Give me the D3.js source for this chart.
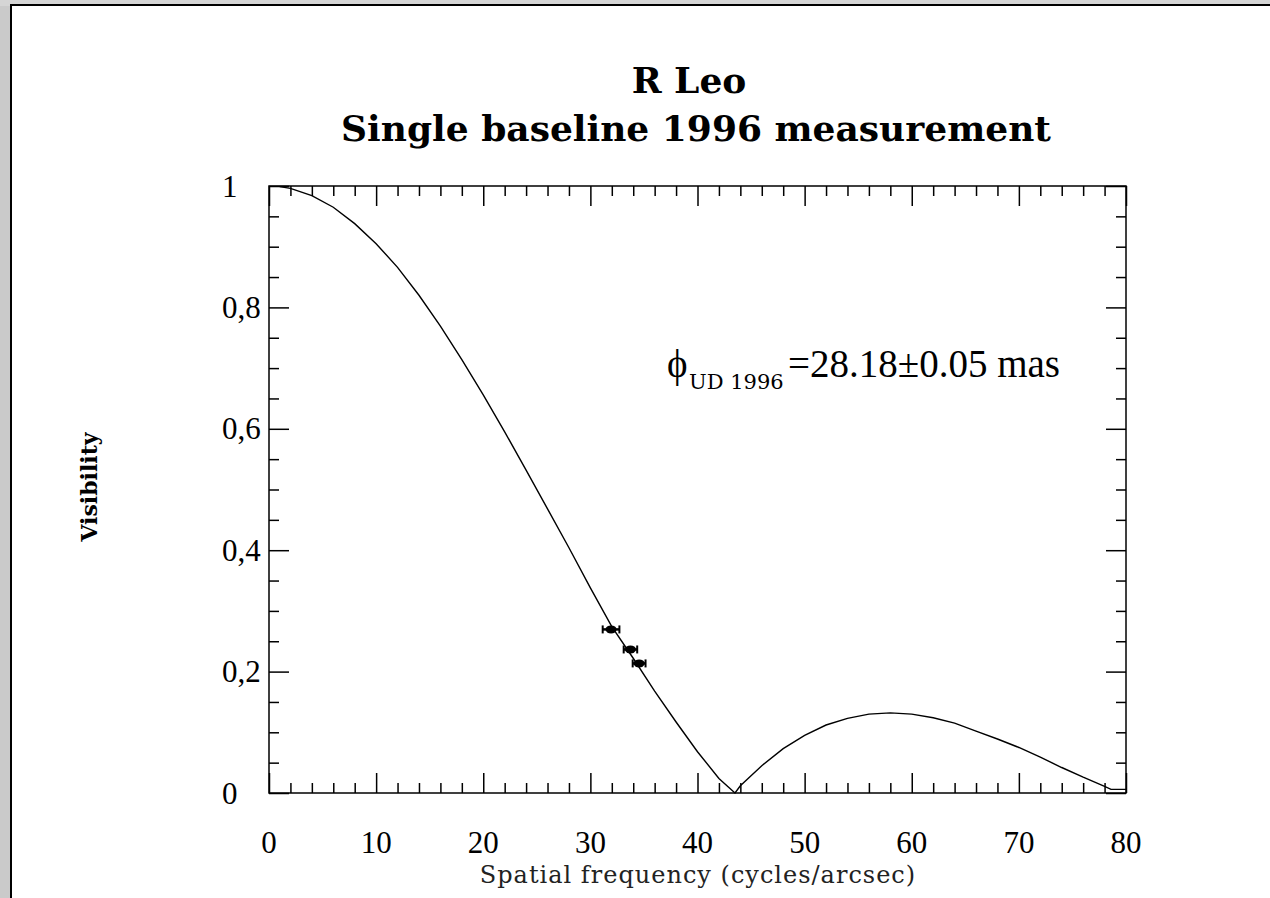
<!DOCTYPE html>
<html>
<head>
<meta charset="utf-8">
<script src="https://cdn.jsdelivr.net/npm/d3@7"></script>
<style>
  body { margin: 0; background: #d5d5d5; }
  svg { display: block; }
</style>
</head>
<body>
<div id="chartTarget"></div>
<script>
// model curve (spatial frequency vs visibility)
let curveFreq = [1, 2, 4, 6, 8, 10, 12, 14, 16, 18, 20, 22, 24, 26, 28, 30, 32, 34, 36, 38, 40, 42, 43.5,
  44, 46, 48, 50, 52, 54, 56, 58, 60, 62, 64, 66, 68, 70, 72, 74, 76, 78, 78.6, 80];
let curveVis = [0.999, 0.996, 0.984, 0.965, 0.938, 0.905, 0.866, 0.82, 0.769, 0.714, 0.656, 0.595, 0.532,
  0.468, 0.404, 0.338, 0.274, 0.222, 0.168, 0.117, 0.068, 0.024, 0.0,
  0.012, 0.045, 0.073, 0.095, 0.112, 0.123, 0.13, 0.132, 0.13, 0.124, 0.115, 0.102, 0.089, 0.075,
  0.059, 0.042, 0.026, 0.011, 0.006, 0.006];

// measured points
let pointFreq = [31.93, 33.74, 34.55];
let pointVis = [0.2695, 0.2365, 0.2135];
let pointFreqErr = [0.78, 0.63, 0.6];
let pointVisErr = [0.004, 0.004, 0.004];

let xTicks = [0, 10, 20, 30, 40, 50, 60, 70, 80];
let xTickLabels = ['0', '10', '20', '30', '40', '50', '60', '70', '80'];
let yTicks = [0, 0.2, 0.4, 0.6, 0.8, 1];
let yTickLabels = ['0', '0,2', '0,4', '0,6', '0,8', '1'];

let titleLines = ['R Leo', 'Single baseline 1996 measurement'];

function drawChart() {
  let W = 1270, H = 898;
  let plot = {left: 269, right: 1126, top: 186, bottom: 793};
  let chartElement = document.querySelector('#chartTarget');

  let svg = d3.select(chartElement).append('svg')
    .attr('width', W)
    .attr('height', H);

  // window background + white page
  svg.append('rect').attr('width', W).attr('height', H).attr('fill', '#d5d5d5');
  svg.append('rect').attr('x', 0).attr('y', 6).attr('width', 11).attr('height', H).attr('fill', '#cacaca');
  svg.append('rect')
    .attr('x', 11).attr('y', 5)
    .attr('width', W + 10).attr('height', H + 10)
    .attr('fill', '#fff')
    .attr('stroke', '#000')
    .attr('stroke-width', 2);

  let x = d3.scaleLinear().domain([0, 80]).range([plot.left, plot.right]);
  let y = d3.scaleLinear().domain([0, 1]).range([plot.bottom, plot.top]);

  let minorX = d3.range(0, 81, 2).filter(d => d % 10 !== 0);
  let minorY = d3.range(0, 21).map(d => d * 0.05).filter(d => Math.round(d * 100) % 20 !== 0);

  function tickAxis(axisFn, scale, ticks, size, pos, horizontal) {
    let g = svg.append('g')
      .attr('transform', horizontal ? `translate(0,${pos})` : `translate(${pos},0)`)
      .call(axisFn(scale).tickValues(ticks).tickSize(size).tickFormat(''));
    g.selectAll('.domain').remove();
    g.selectAll('line').attr('stroke', '#000').attr('stroke-width', 1.5);
  }

  // inward ticks on all four sides
  tickAxis(d3.axisBottom, x, xTicks, -20, plot.bottom, true);
  tickAxis(d3.axisBottom, x, minorX, -10, plot.bottom, true);
  tickAxis(d3.axisTop, x, xTicks, -20, plot.top, true);
  tickAxis(d3.axisTop, x, minorX, -10, plot.top, true);
  tickAxis(d3.axisLeft, y, yTicks, -20, plot.left, false);
  tickAxis(d3.axisLeft, y, minorY, -10, plot.left, false);
  tickAxis(d3.axisRight, y, yTicks, -20, plot.right, false);
  tickAxis(d3.axisRight, y, minorY, -10, plot.right, false);

  svg.append('rect')
    .attr('x', plot.left).attr('y', plot.top)
    .attr('width', plot.right - plot.left).attr('height', plot.bottom - plot.top)
    .attr('fill', 'none')
    .attr('stroke', '#000')
    .attr('stroke-width', 1.5);

  // tick labels
  svg.append('g').selectAll('text')
    .data(xTicks)
    .enter().append('text')
      .attr('x', d => x(d))
      .attr('y', 853)
      .attr('text-anchor', 'middle')
      .style('font', '31px "Liberation Serif", serif')
      .text((d, i) => xTickLabels[i]);

  svg.append('g').selectAll('text')
    .data(yTicks)
    .enter().append('text')
      .attr('x', 222)
      .attr('y', d => y(d) + 10.5)
      .attr('text-anchor', 'start')
      .style('font', '31px "Liberation Serif", serif')
      .text((d, i) => yTickLabels[i]);

  // model curve
  let line = d3.line()
    .x((d, i) => x(curveFreq[i]))
    .y(d => y(d));

  svg.append('path')
    .datum(curveVis)
    .attr('d', line)
    .attr('fill', 'none')
    .attr('stroke', '#000')
    .attr('stroke-width', 1.4);

  // data points with error bars
  let pts = svg.append('g').selectAll('g')
    .data(pointFreq)
    .enter().append('g');

  pts.append('line')
    .attr('x1', (d, i) => x(d - pointFreqErr[i]))
    .attr('x2', (d, i) => x(d + pointFreqErr[i]))
    .attr('y1', (d, i) => y(pointVis[i]))
    .attr('y2', (d, i) => y(pointVis[i]))
    .attr('stroke', '#000').attr('stroke-width', 2.5);
  pts.append('line')
    .attr('x1', (d, i) => x(d - pointFreqErr[i]))
    .attr('x2', (d, i) => x(d - pointFreqErr[i]))
    .attr('y1', (d, i) => y(pointVis[i]) - 4)
    .attr('y2', (d, i) => y(pointVis[i]) + 4)
    .attr('stroke', '#000').attr('stroke-width', 2);
  pts.append('line')
    .attr('x1', (d, i) => x(d + pointFreqErr[i]))
    .attr('x2', (d, i) => x(d + pointFreqErr[i]))
    .attr('y1', (d, i) => y(pointVis[i]) - 4)
    .attr('y2', (d, i) => y(pointVis[i]) + 4)
    .attr('stroke', '#000').attr('stroke-width', 2);
  pts.append('line')
    .attr('x1', d => x(d))
    .attr('x2', d => x(d))
    .attr('y1', (d, i) => y(pointVis[i] + pointVisErr[i]))
    .attr('y2', (d, i) => y(pointVis[i] - pointVisErr[i]))
    .attr('stroke', '#000').attr('stroke-width', 2.5);
  pts.append('ellipse')
    .attr('cx', d => x(d))
    .attr('cy', (d, i) => y(pointVis[i]))
    .attr('rx', 5.5)
    .attr('ry', 4)
    .attr('fill', '#000');

  // title
  svg.append('text')
    .attr('x', 689).attr('y', 93)
    .attr('text-anchor', 'middle')
    .style('font', 'bold 36px "DejaVu Serif", serif')
    .text(titleLines[0]);
  svg.append('text')
    .attr('x', 696).attr('y', 141)
    .attr('text-anchor', 'middle')
    .style('font', 'bold 36px "DejaVu Serif", serif')
    .text(titleLines[1]);

  // axis titles
  svg.append('text')
    .attr('transform', 'translate(97,487) rotate(-90)')
    .attr('text-anchor', 'middle')
    .style('font', 'bold 22px "DejaVu Serif", serif')
    .text('Visibility');

  svg.append('text')
    .attr('x', 698).attr('y', 883)
    .attr('text-anchor', 'middle')
    .style('font', '24px "DejaVu Serif", serif')
    .style('letter-spacing', '1px')
    .style('fill', '#222')
    .text('Spatial frequency (cycles/arcsec)');

  // fitted diameter annotation
  let ann = svg.append('text').attr('y', 377);
  ann.append('tspan')
    .attr('x', 667)
    .style('font', '39px "Liberation Serif", serif')
    .text('\u03D5');
  ann.append('tspan')
    .attr('x', 689).attr('y', 389)
    .style('font', '21px "DejaVu Serif", serif')
    .text('UD 1996');
  ann.append('tspan')
    .attr('x', 788).attr('y', 377)
    .style('font', '39px "Liberation Serif", serif')
    .text('=28.18\u00B10.05 mas');
}

drawChart();
</script>
</body>
</html>
